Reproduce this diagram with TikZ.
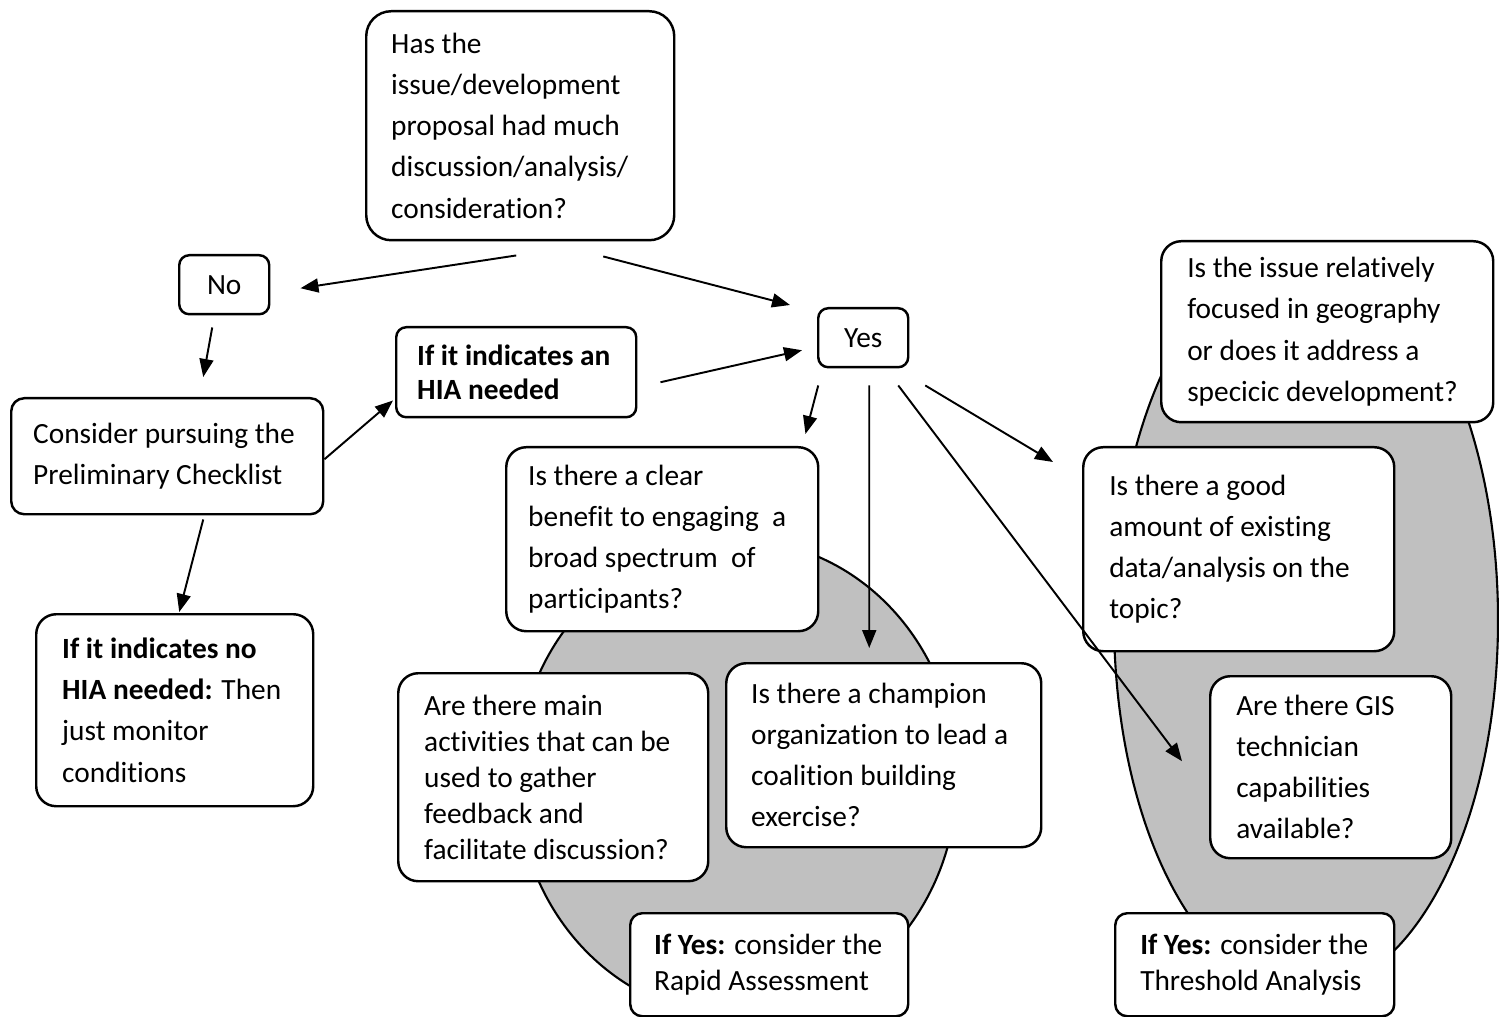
\documentclass[tikz,border=0pt]{standalone}
\usepackage{fontspec}
\setmainfont{Carlito}[Ligatures={NoCommon}]
\usetikzlibrary{arrows.meta}
\definecolor{zonegray}{RGB}{192, 192, 192}

\begin{document}
\begin{tikzpicture}[x=1cm, y=-1cm,
  arrow/.style={-{Triangle[length=0.18cm, width=0.14cm]}, line width=0.55pt},
  box/.style={draw, fill=white, line width=0.7pt, rounded corners=0.2cm, anchor=north west, inner sep=0pt, align=flush left, font=\fontsize{8.35}{11.7}\selectfont},
  zone/.style={draw, fill=zonegray, line width=0.6pt}
]
  \useasboundingbox (0, 0) rectangle (14.99, 10.17);

  % Grey zones behind the questions
  \draw[zone] (7.37, 7.78) ellipse [x radius=2.20, y radius=2.38];
  \draw[zone] (13.06, 6.20) ellipse [x radius=1.92, y radius=3.72];

  % Start
  \node[box, rounded corners=0.25cm, minimum width=3.08cm, minimum height=2.29cm, text width=2.58cm] (ask) at (3.65, 0.10) {Has the\\issue/development\\proposal had much\\discussion/analysis/\\consideration?};
  \node[box, rounded corners=0.1cm, minimum width=0.90cm, minimum height=0.59cm, align=center] (no) at (1.78, 2.54) {No};
  \node[box, rounded corners=0.1cm, minimum width=0.90cm, minimum height=0.59cm, align=center] (yes) at (8.17, 3.07) {Yes};

  % No branch
  \node[box, rounded corners=0.13cm, minimum width=3.12cm, minimum height=1.16cm, text width=2.68cm] (check) at (0.10, 3.97) {Consider pursuing the\\Preliminary Checklist};
  \node[box, minimum width=2.77cm, minimum height=1.92cm, text width=2.25cm] (monitor) at (0.35, 6.13) {\textbf{If it indicates no}\\\textbf{HIA needed:} Then\\just monitor\\conditions};
  \node[box, rounded corners=0.1cm, minimum width=2.40cm, minimum height=0.90cm, text width=1.98cm, font=\fontsize{8.35}{9.7}\selectfont\bfseries] (needed) at (3.95, 3.26) {If it indicates an\\HIA needed};

  % Rapid Assessment questions
  \node[box, minimum width=3.12cm, minimum height=1.84cm, text width=2.68cm] (benefit) at (5.05, 4.46) {Is there a clear\\benefit to engaging~ a\\broad spectrum~ of\\participants?};
  \node[box, minimum width=3.10cm, minimum height=2.08cm, text width=2.58cm, font=\fontsize{8.35}{10.2}\selectfont] (activities) at (3.97, 6.72) {Are there main\\activities that can be\\used to gather\\feedback and\\facilitate discussion?};
  \node[box, minimum width=3.15cm, minimum height=1.84cm, text width=2.65cm] (champion) at (7.25, 6.62) {Is there a champion\\organization to lead a\\coalition building\\exercise?};
  \node[box, rounded corners=0.12cm, minimum width=2.78cm, minimum height=1.03cm, text width=2.30cm, font=\fontsize{8.35}{10.2}\selectfont] (rapid) at (6.29, 9.12) {\textbf{If Yes:} consider the\\Rapid Assessment};

  % Threshold Analysis questions
  \node[box, minimum width=3.32cm, minimum height=1.81cm, text width=2.80cm] (geo) at (11.60, 2.40) {Is the issue relatively\\focused in geography\\or does it address a\\specicic development?};
  \node[box, minimum width=3.11cm, minimum height=2.04cm, text width=2.59cm] (data) at (10.82, 4.46) {Is there a good\\amount of existing\\data/analysis on the\\topic?};
  \node[box, minimum width=2.41cm, minimum height=1.82cm, text width=1.89cm] (gis) at (12.09, 6.75) {Are there GIS\\technician\\capabilities\\available?};
  \node[box, rounded corners=0.12cm, minimum width=2.79cm, minimum height=1.03cm, text width=2.29cm, font=\fontsize{8.35}{10.2}\selectfont] (threshold) at (11.14, 9.12) {\textbf{If Yes:} consider the\\Threshold Analysis};

  % Connectors
  \draw[arrow] ([xshift=-0.04cm, yshift=-0.14cm]ask.south) -- ([xshift=0.30cm, yshift=-0.035cm]no.east);
  \draw[arrow] ([xshift=0.83cm, yshift=-0.15cm]ask.south) -- ([xshift=-0.27cm, yshift=0.02cm]yes.north west);
  \draw[arrow] ([xshift=-0.12cm, yshift=-0.12cm]no.south) -- ([xshift=0.36cm, yshift=0.20cm]check.north);
  \draw[arrow] ([yshift=-0.03cm]check.east) -- ([xshift=-0.02cm, yshift=0.18cm]needed.south west);
  \draw[arrow] ([xshift=0.23cm, yshift=-0.10cm]needed.east) -- ([xshift=-0.15cm, yshift=-0.125cm]yes.west);
  \draw[arrow] ([xshift=0.36cm, yshift=-0.04cm]check.south) -- ([xshift=0.045cm, yshift=0.01cm]monitor.north);
  \draw[arrow] ([xshift=-0.45cm, yshift=-0.17cm]yes.south) -- ([xshift=-0.14cm, yshift=0.12cm]benefit.north east);
  \draw[arrow] ([xshift=0.06cm, yshift=-0.17cm]yes.south) -- ([xshift=-0.145cm, yshift=0.14cm]champion.north);
  \draw[arrow] ([xshift=0.35cm, yshift=-0.17cm]yes.south) -- ([xshift=-0.27cm, yshift=0.06cm]gis.west);
  \draw[arrow] ([xshift=0.62cm, yshift=-0.17cm]yes.south) -- ([xshift=-0.29cm, yshift=-0.16cm]data.north west);
\end{tikzpicture}
\end{document}
